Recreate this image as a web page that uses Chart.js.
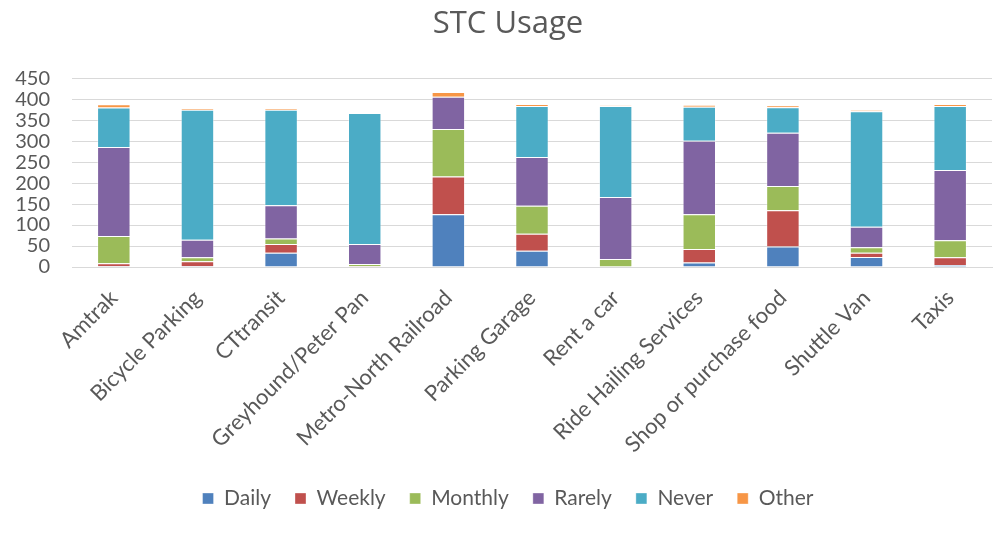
<!DOCTYPE html>
<html>
<head>
<meta charset="utf-8">
<script src="https://cdn.jsdelivr.net/npm/chart.js@4/dist/chart.umd.min.js"></script>
<style>
html,body{margin:0;padding:0;background:#fff;}
#wrap{width:1008px;height:535px;position:relative;}
</style>
</head>
<body>
<div id="wrap"><canvas id="c" width="1008" height="535"></canvas></div>
<script>
const categories = ["Amtrak","Bicycle Parking","CTtransit","Greyhound/Peter Pan","Metro-North Railroad","Parking Garage","Rent a car","Ride Hailing Services","Shop or purchase food","Shuttle Van","Taxis"];
const daily   = [2, 2, 34, 1, 126, 39, 0, 11, 49, 24, 5];
const weekly  = [7, 12, 21, 1, 90, 40, 1, 32, 86, 10, 18];
const monthly = [65, 9, 13, 5, 113, 67, 18, 83, 58, 13, 41];
const rarely  = [212, 42, 79, 48, 77, 116, 148, 175, 127, 49, 167];
const never   = [94, 310, 228, 312, 0, 122, 217, 81, 61, 275, 153];
const other   = [8, 3, 3, 0, 11, 4, 1, 5, 4, 3, 4];
const yTicks  = [0, 50, 100, 150, 200, 250, 300, 350, 400, 450];

const FONT = "Lato, 'Open Sans', sans-serif";
const TXT = '#595959';
function ds(label, data, color){
  return {label, data, backgroundColor: color, borderColor: 'rgba(255,255,255,0.35)', borderWidth: 1,
          barPercentage: 0.4, categoryPercentage: 1.0};
}
new Chart(document.getElementById('c'), {
  type: 'bar',
  data: {
    labels: categories,
    datasets: [
      ds('Daily', daily, '#4F81BD'),
      ds('Weekly', weekly, '#C0504D'),
      ds('Monthly', monthly, '#9BBB59'),
      ds('Rarely', rarely, '#8064A2'),
      ds('Never', never, '#4BACC6'),
      ds('Other', other, '#F79646')
    ]
  },
  options: {
    responsive: false,
    animation: false,
    layout: {padding: {left: 8, right: 0, top: 6, bottom: 16}},
    plugins: {
      tooltip: {enabled: false},
      title: {display: true, text: 'STC Usage', color: TXT,
              font: {family: "'Open Sans', Lato, sans-serif", size: 31, weight: 'normal'}, padding: {top: 0, bottom: 35}},
      legend: {position: 'bottom', labels: {color: TXT, font: {family: FONT, size: 21},
               boxWidth: 11, boxHeight: 11, padding: 24}}
    },
    scales: {
      x: {stacked: true,
          grid: {display: false},
          border: {color: '#D9D9D9', width: 1},
          ticks: {color: TXT, font: {family: FONT, size: 22}, minRotation: 45, maxRotation: 45, padding: 10, autoSkip: false},
          afterFit: s => { s.height = 197; }
      },
      y: {stacked: true, min: 0, max: 450,
          afterBuildTicks: s => { s.ticks = yTicks.map(v => ({value: v})); },
          grid: {color: '#D9D9D9', lineWidth: 1, drawTicks: false},
          border: {display: false},
          ticks: {color: TXT, font: {family: FONT, size: 20}, padding: 22, autoSkip: false},
          afterFit: s => { s.width = 64; }
      },
      yR: {position: 'right', display: true,
          grid: {display: false}, border: {display: false},
          ticks: {display: false},
          afterFit: s => { s.width = 16; }
      }
    }
  }
});
</script>
</body>
</html>
